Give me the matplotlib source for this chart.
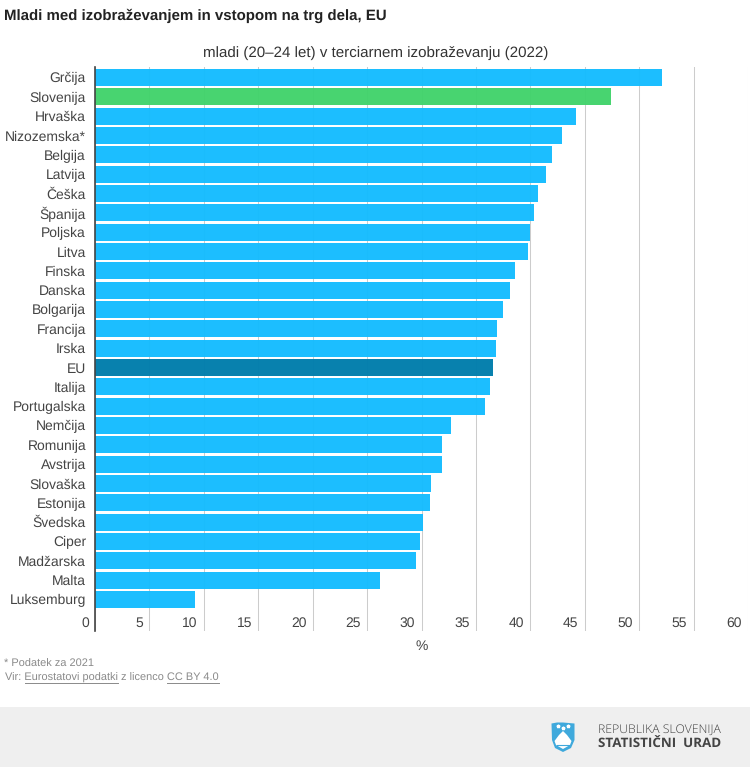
"""Mladi v terciarnem izobrazevanju, EU - horizontal bars with footer band."""
import matplotlib
matplotlib.use("Agg")
import matplotlib.pyplot as plt
from matplotlib.patches import Polygon, Rectangle
from matplotlib.transforms import ScaledTranslation

plt.rcParams["font.family"] = ["Liberation Sans", "DejaVu Sans"]
plt.rcParams["text.hinting"] = "none"

countries = ["Grčija", "Slovenija", "Hrvaška", "Nizozemska*", "Belgija", "Latvija", "Češka",
             "Španija", "Poljska", "Litva", "Finska", "Danska", "Bolgarija", "Francija",
             "Irska", "EU", "Italija", "Portugalska", "Nemčija", "Romunija", "Avstrija",
             "Slovaška", "Estonija", "Švedska", "Ciper", "Madžarska", "Malta", "Luksemburg"]
values = [52.1, 47.4, 44.2, 42.9, 42.0, 41.45, 40.7,
          40.3, 40.0, 39.8, 38.6, 38.1, 37.5, 36.9,
          36.8, 36.6, 36.3, 35.8, 32.7, 31.9, 31.85,
          30.9, 30.8, 30.1, 29.9, 29.5, 26.2, 9.2]
xticks = [0, 5, 10, 15, 20, 25, 30, 35, 40, 45, 50, 55, 60]

BLUE = "#14bcff"
GREEN = "#42d36b"
DARK = "#007dac"
TEXT = "#444444"
W, H = 750, 767

fig = plt.figure(figsize=(W / 100, H / 100), dpi=100, facecolor="white")

# os v pikslih: levo 95, desno 748, zgoraj 67, spodaj 631
ax = fig.add_axes([95 / W, 1 - 631 / H, (748 - 95) / W, (631 - 67) / H])

colors = [GREEN if c == "Slovenija" else DARK if c == "EU" else BLUE for c in countries]
ypos = list(range(len(countries)))
ax.barh(ypos, values, height=0.88, color=colors, alpha=0.97, zorder=3)

ax.set_xlim(0, 60)
ax.set_ylim(27.5 + 22 / 19.33, -0.5 - 0.8 / 19.33)
ax.set_yticks(ypos)
ax.set_yticklabels(countries, fontsize=10, color=TEXT)
ax.tick_params(axis="y", length=0, pad=6.5)

ax.set_xticks(xticks)
ax.set_xticklabels([str(v) for v in xticks], fontsize=10, color=TEXT, ha="right")
ax.tick_params(axis="x", length=0, pad=-10.5)
shift = ScaledTranslation(-4.5 / 72, 0, fig.dpi_scale_trans)
for lab in ax.get_xticklabels():
    lab.set_transform(lab.get_transform() + shift)

ax.grid(axis="x", color="#cccccc", linewidth=0.75, zorder=1)
ax.set_axisbelow(True)
for side in ["top", "right", "bottom"]:
    ax.spines[side].set_visible(False)
ax.spines["left"].set_color("#444444")
ax.spines["left"].set_linewidth(1.2)
ax.spines["left"].set_zorder(5)

ax.set_xlabel("%", fontsize=10, color=TEXT, labelpad=6)

# vse ostalo v pikslih slike
ov = fig.add_axes([0, 0, 1, 1], facecolor="none", zorder=10)
ov.set_xlim(0, W)
ov.set_ylim(H, 0)
ov.axis("off")

ov.text(4, 15.5, "Mladi med izobraževanjem in vstopom na trg dela, EU", fontsize=10.8,
        fontweight="bold", color="#222222", va="center")
ov.text(375.5, 53.5, "mladi (20–24 let) v terciarnem izobraževanju (2022)", fontsize=10.87,
        color="#333333", ha="center", va="center")

ov.text(4, 664, "* Podatek za 2021", fontsize=7.9, color="#8a8a8a", va="center")
ov.text(5, 678, "Vir: Eurostatovi podatki z licenco CC BY 4.0", fontsize=7.9,
        color="#8a8a8a", va="center")
ov.plot([24.5, 118], [682.8, 682.8], color="#8a8a8a", linewidth=0.7)
ov.plot([167, 219], [682.8, 682.8], color="#8a8a8a", linewidth=0.7)

ov.add_patch(Rectangle((0, 707), W, 60, facecolor="#efefef", edgecolor="none", zorder=0))

# grb: scit z goro
shield = [(551.5, 723.5), (557, 722.5), (563, 722.5), (574.5, 723.5), (574.5, 740),
          (571, 748), (563, 752), (555, 748), (552, 740)]
ov.add_patch(Polygon(shield, closed=True, facecolor="#3fa9dc", edgecolor="none", zorder=2))
mountain = [(554.5, 741), (559, 735), (563, 731), (567, 735), (571.5, 741), (570, 745),
            (563, 749), (556, 745)]
ov.add_patch(Polygon(mountain, closed=True, facecolor="white", edgecolor="none", zorder=3))
ov.plot([557, 569], [745, 745], color="#3fa9dc", linewidth=0.8, zorder=4)
ov.plot([558, 563, 568], [726, 728, 726], linestyle="none", marker="*", markersize=2.5,
        color="white", zorder=4)

ov.text(597.5, 729.5, "REPUBLIKA SLOVENIJA", fontsize=8.8, color="#444444", va="center",
        family=["Open Sans", "DejaVu Sans"], fontweight="light")
ov.text(597.5, 744, "STATISTIČNI  URAD", fontsize=9.6, color="#444444", va="center",
        family=["Open Sans", "DejaVu Sans"], fontweight="bold")

fig.savefig("out.png", dpi=100)
